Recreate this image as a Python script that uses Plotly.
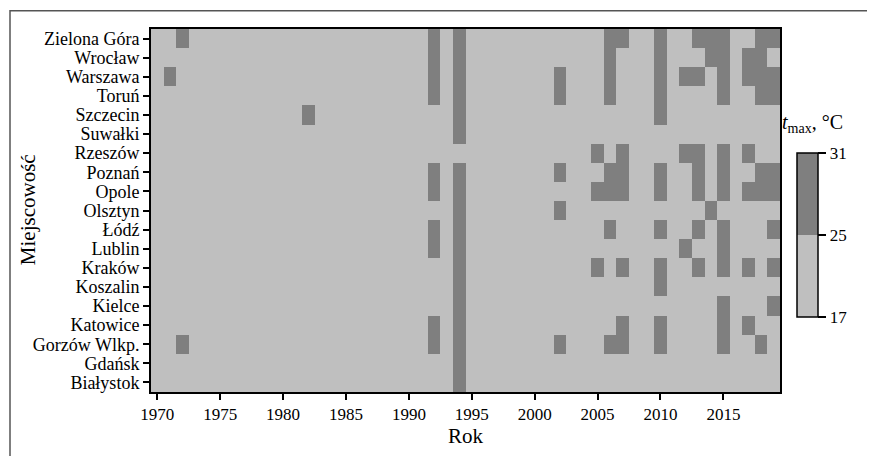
import plotly.graph_objects as go

years = list(range(1970, 2020))
# cities listed bottom -> top
cities = ["Białystok", "Gdańsk", "Gorzów Wlkp.", "Katowice", "Kielce", "Koszalin",
          "Kraków", "Lublin", "Łódź", "Olsztyn", "Opole", "Poznań", "Rzeszów",
          "Suwałki", "Szczecin", "Toruń", "Warszawa", "Wrocław", "Zielona Góra"]

# years in which the maximum temperature fell in the upper class (25–31 °C)
hot_years = {
    "Zielona Góra": [1972, 1992, 1994, 2006, 2007, 2010, 2013, 2014, 2015, 2018, 2019],
    "Wrocław": [1992, 1994, 2006, 2010, 2014, 2015, 2017, 2018],
    "Warszawa": [1971, 1992, 1994, 2002, 2006, 2010, 2012, 2013, 2015, 2017, 2018, 2019],
    "Toruń": [1992, 1994, 2002, 2006, 2010, 2015, 2018, 2019],
    "Szczecin": [1982, 1994, 2010],
    "Suwałki": [1994],
    "Rzeszów": [2005, 2007, 2012, 2013, 2015, 2017],
    "Poznań": [1992, 1994, 2002, 2006, 2007, 2010, 2013, 2015, 2018, 2019],
    "Opole": [1992, 1994, 2005, 2006, 2007, 2010, 2013, 2015, 2017, 2018, 2019],
    "Olsztyn": [1994, 2002, 2014],
    "Łódź": [1992, 1994, 2006, 2010, 2013, 2015, 2019],
    "Lublin": [1992, 1994, 2012, 2015],
    "Kraków": [1994, 2005, 2007, 2010, 2013, 2015, 2017, 2019],
    "Koszalin": [1994, 2010],
    "Kielce": [1994, 2015, 2019],
    "Katowice": [1992, 1994, 2007, 2010, 2015, 2017],
    "Gorzów Wlkp.": [1972, 1992, 1994, 2002, 2006, 2007, 2010, 2015, 2018],
    "Gdańsk": [1994],
    "Białystok": [1994],
}

class_breaks = [17, 25, 31]
class_colors = ["#bfbfbf", "#7f7f7f"]
x_ticks = list(range(1970, 2020, 5))

z = [[1 if y in hot_years[c] else 0 for y in years] for c in cities]

colorscale = [[0.0, class_colors[0]], [0.5, class_colors[0]],
              [0.5, class_colors[1]], [1.0, class_colors[1]]]

# page has an 8px body margin, so figure coords = page coords - 8
OFF = 8
W, H = 875 - OFF, 456 - OFF
ml, mt = 143, 21
plot_right, plot_bottom = 780 - OFF, 391.7 - OFF
mr, mb = W - plot_right, H - plot_bottom
pw, ph = W - ml - mr, H - mt - mb


def px_x(p):
    return (p - OFF - ml) / pw


def px_y(p):
    return (plot_bottom - (p - OFF)) / ph


font_family = "Liberation Serif, Times New Roman, serif"

fig = go.Figure(go.Heatmap(
    x=years, y=cities, z=z,
    zmin=-0.5, zmax=1.5,
    colorscale=colorscale,
    showscale=True,
    hoverinfo="skip",
    colorbar=dict(
        tickvals=[-0.5, 0.5, 1.5],
        ticktext=[str(v) for v in class_breaks],
        ticks="outside", ticklen=8, tickwidth=1.5, tickcolor="black",
        tickfont=dict(size=17, family=font_family, color="black"),
        outlinewidth=1.5, outlinecolor="black",
        thickness=21, thicknessmode="pixels",
        len=164 / ph, lenmode="fraction",
        x=px_x(797), xanchor="left", xpad=0,
        y=px_y(235), yanchor="middle", ypad=0,
    ),
))

fig.update_layout(
    width=W, height=H,
    margin=dict(l=ml, r=mr, t=mt, b=mb),
    paper_bgcolor="white", plot_bgcolor="white",
    font=dict(family=font_family, size=17, color="black"),
    xaxis=dict(
        title=dict(text="Rok", font=dict(size=21), standoff=4),
        range=[1969.5, 2019.5],
        tickmode="array", tickvals=x_ticks,
        ticks="outside", ticklen=6, tickwidth=1.5, tickcolor="black",
        tickfont=dict(size=17),
        showline=True, linewidth=2, linecolor="black", mirror=True,
        showgrid=False, zeroline=False,
    ),
    yaxis=dict(
        tickmode="array", tickvals=cities, ticktext=cities,
        ticks="outside", ticklen=6, tickwidth=1.5, tickcolor="black",
        tickfont=dict(size=18),
        showline=True, linewidth=2, linecolor="black", mirror=True,
        showgrid=False, zeroline=False,
    ),
    annotations=[
        dict(
            text="<i>t</i><sub>max</sub>, °C",
            xref="paper", yref="paper",
            x=px_x(780), y=px_y(123),
            xanchor="left", yanchor="middle", showarrow=False,
            font=dict(size=20, family=font_family, color="black"),
        ),
        dict(
            text="Miejscowość", textangle=-90,
            xref="paper", yref="paper",
            x=px_x(28), y=px_y(210),
            xanchor="center", yanchor="middle", showarrow=False,
            font=dict(size=21, family=font_family, color="black"),
        ),
    ],
    shapes=[dict(
        type="rect", xref="paper", yref="paper",
        x0=px_x(10), x1=px_x(870.7),
        y0=px_y(475), y1=px_y(10.7),
        line=dict(color="#555555", width=1.5), fillcolor="rgba(0,0,0,0)",
        layer="below",
    )],
)

fig.write_html("out.html")
